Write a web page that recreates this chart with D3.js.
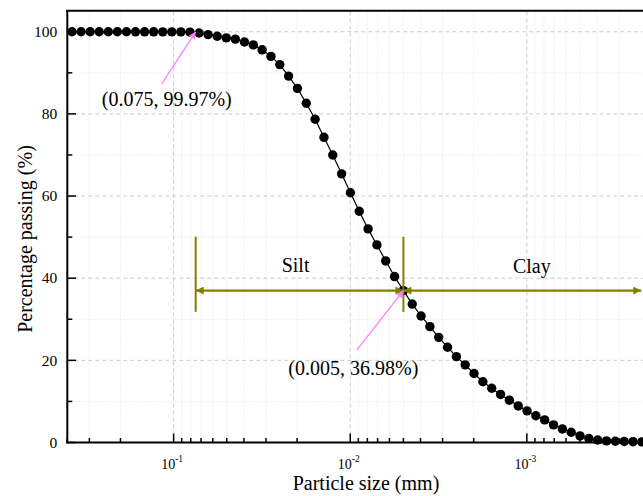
<!DOCTYPE html>
<html>
<head>
<meta charset="utf-8">
<script src="https://cdn.jsdelivr.net/npm/d3@7/dist/d3.min.js"></script>
<style>
  html, body { margin: 0; padding: 0; background: #fff; }
  svg { display: block; }
  text { font-family: "Liberation Serif", "Times New Roman", serif; fill: #000; }
</style>
</head>
<body>
<svg id="chart" width="643" height="496"></svg>
<script>
// ---- data ----
const sizes = [0.3761, 0.3342, 0.2970, 0.2638, 0.2343, 0.2082, 0.1850, 0.1643, 0.1460, 0.1297,
  0.1152, 0.1024, 0.09097, 0.08082, 0.07180, 0.06379, 0.05667, 0.05035, 0.04473,
  0.03972, 0.03540, 0.03155, 0.02812, 0.02506, 0.02234, 0.01991, 0.01774, 0.01581, 0.01409,
  0.01256, 0.01119, 0.009977, 0.008892, 0.007925, 0.007063, 0.006295, 0.005610, 0.005000,
  0.004457, 0.003972, 0.003540, 0.003155, 0.002812, 0.002506, 0.002234, 0.001991, 0.001774,
  0.001581, 0.001409, 0.001256, 0.001119, 0.0009977, 0.0008892, 0.0007925, 0.0007063,
  0.0006295, 0.0005610, 0.0005000, 0.0004457, 0.0003972, 0.0003540, 0.0003155, 0.0002812,
  0.0002506, 0.0002234];
const passing = [100.0, 100.0, 100.0, 100.0, 99.99, 99.99, 99.99, 99.98, 99.98, 99.98,
  99.97, 99.97, 99.96, 99.9, 99.7, 99.3, 98.9, 98.5, 98.2,
  97.5, 96.8, 95.6, 94.0, 92.0, 89.2, 86.2, 82.6, 78.7, 74.3,
  70.0, 65.4, 60.8, 56.3, 52.0, 48.1, 44.2, 40.4, 36.98,
  33.7, 30.8, 28.2, 25.6, 23.2, 20.9, 18.9, 16.8, 14.8,
  13.2, 11.7, 10.3, 8.9, 7.7, 6.5, 5.5, 4.3, 3.3, 2.5, 1.6, 1.0, 0.6, 0.4, 0.3, 0.25, 0.2, 0.15];
const xMajorTicks = [0.1, 0.01, 0.001];
const xTickExponents = ["-1", "-2", "-3"];
const yMajorTicks = [0, 20, 40, 60, 80, 100];
const yMinorTicks = [10, 30, 50, 70, 90];
const xDomain = [0.4, 0.0002];
const yDomain = [0, 105];
// annotation anchors (data space)
const pointLabels = [
  {text: "(0.075, 99.97%)", tip: [0.075, 99.97], tail: [0.1168, 87.3], at: [0.2553, 82.0]},
  {text: "(0.005, 36.98%)", tip: [0.005, 36.98], tail: [0.00919, 22.5], at: [0.02241, 16.4]}
];
const boundaries = [0.075, 0.005, 0.000225];   // silt from 0.075 to 0.005, clay beyond
const boundaryLevel = 36.98;
const boundaryBar = [31.8, 50.1];
const zoneLabels = [{text: "Silt", at: [0.0204, 41.4]}, {text: "Clay", at: [0.000937, 41.3]}];

// ---- chart ----
const svg = d3.select("#chart");
const L = 67.3, R = 650.3, B = 442.5, T = 11.2;
const x = d3.scaleLog().domain(xDomain).range([L, R]);
const y = d3.scaleLinear().domain(yDomain).range([B, T]);

svg.append("rect").attr("width", 643).attr("height", 496).attr("fill", "#fff");

const allXTicks = x.ticks().filter(v => v <= xDomain[0] && v >= xDomain[1]);
const isMajor = v => xMajorTicks.some(m => Math.abs(m - v) / m < 1e-6);
const xMinor = allXTicks.filter(v => !isMajor(v));

// grid
const grid = svg.append("g");
grid.selectAll(".gxm").data(xMinor).join("line")
  .attr("x1", d => x(d)).attr("x2", d => x(d)).attr("y1", B).attr("y2", T)
  .attr("stroke", "#e4e4e4").attr("stroke-width", 1).attr("stroke-dasharray", "1,2");
grid.selectAll(".gym").data(yMinorTicks).join("line")
  .attr("x1", L).attr("x2", R).attr("y1", d => y(d)).attr("y2", d => y(d))
  .attr("stroke", "#e4e4e4").attr("stroke-width", 1).attr("stroke-dasharray", "1,2");
grid.selectAll(".gxM").data(xMajorTicks).join("line")
  .attr("x1", d => x(d)).attr("x2", d => x(d)).attr("y1", B).attr("y2", T)
  .attr("stroke", "#cccccc").attr("stroke-width", 1).attr("stroke-dasharray", "4,3");
grid.selectAll(".gyM").data(yMajorTicks.filter(v => v > 0)).join("line")
  .attr("x1", L).attr("x2", R).attr("y1", d => y(d)).attr("y2", d => y(d))
  .attr("stroke", "#cccccc").attr("stroke-width", 1).attr("stroke-dasharray", "4,3");

// curve
const pts = sizes.map((s, i) => [s, passing[i]]);
svg.append("path").datum(pts)
  .attr("d", d3.line().x(d => x(d[0])).y(d => y(d[1])))
  .attr("fill", "none").attr("stroke", "#000").attr("stroke-width", 1.2);
svg.append("g").selectAll("circle").data(pts).join("circle")
  .attr("cx", d => x(d[0])).attr("cy", d => y(d[1])).attr("r", 4.7).attr("fill", "#000");

// markers
const defs = svg.append("defs");
defs.append("marker").attr("id", "olive").attr("viewBox", "0 0 10 10")
  .attr("refX", 10).attr("refY", 5).attr("markerWidth", 10).attr("markerHeight", 8)
  .attr("markerUnits", "userSpaceOnUse").attr("orient", "auto-start-reverse")
  .append("path").attr("d", "M0,0 L10,5 L0,10 Z").attr("fill", "#808000");
defs.append("marker").attr("id", "pink").attr("viewBox", "0 0 10 10")
  .attr("refX", 10).attr("refY", 5).attr("markerWidth", 9).attr("markerHeight", 7)
  .attr("markerUnits", "userSpaceOnUse").attr("orient", "auto")
  .append("path").attr("d", "M0,0 L10,5 L0,10 Z").attr("fill", "#ff80ff");

// boundary bars and zone arrows
const olive = "#808000";
svg.append("g").selectAll("line").data(boundaries.slice(0, 2)).join("line")
  .attr("x1", d => x(d)).attr("x2", d => x(d))
  .attr("y1", y(boundaryBar[0])).attr("y2", y(boundaryBar[1]))
  .attr("stroke", olive).attr("stroke-width", 2);
[[boundaries[0], boundaries[1]], [boundaries[1], boundaries[2]]].forEach(([a, b]) => {
  svg.append("line")
    .attr("x1", x(a)).attr("x2", x(b)).attr("y1", y(boundaryLevel)).attr("y2", y(boundaryLevel))
    .attr("stroke", olive).attr("stroke-width", 2.2)
    .attr("marker-start", "url(#olive)").attr("marker-end", "url(#olive)");
});
svg.append("g").selectAll("text").data(zoneLabels).join("text")
  .attr("x", d => x(d.at[0])).attr("y", d => y(d.at[1]))
  .attr("text-anchor", "middle").attr("font-size", 20).text(d => d.text);

// point labels
pointLabels.forEach(p => {
  svg.append("line")
    .attr("x1", x(p.tail[0])).attr("y1", y(p.tail[1]))
    .attr("x2", x(p.tip[0])).attr("y2", y(p.tip[1]))
    .attr("stroke", "#ff80ff").attr("stroke-width", 1.3).attr("marker-end", "url(#pink)");
  svg.append("text").attr("x", x(p.at[0])).attr("y", y(p.at[1]))
    .attr("font-size", 20).text(p.text);
});

// axes
const axG = svg.append("g");
axG.append("line").attr("x1", L).attr("x2", L).attr("y1", T - 1).attr("y2", B + 1)
  .attr("stroke", "#000").attr("stroke-width", 2);
axG.append("line").attr("x1", L - 1).attr("x2", R).attr("y1", B).attr("y2", B)
  .attr("stroke", "#000").attr("stroke-width", 2);
axG.append("line").attr("x1", L - 1).attr("x2", R).attr("y1", T - 0.5).attr("y2", T - 0.5)
  .attr("stroke", "#000").attr("stroke-width", 2);

// x ticks (inward)
axG.selectAll(".xtM").data(xMajorTicks).join("line")
  .attr("x1", d => x(d)).attr("x2", d => x(d)).attr("y1", B).attr("y2", B - 9)
  .attr("stroke", "#000").attr("stroke-width", 1.5);
axG.selectAll(".xtm").data(xMinor).join("line")
  .attr("x1", d => x(d)).attr("x2", d => x(d)).attr("y1", B).attr("y2", B - 4.5)
  .attr("stroke", "#000").attr("stroke-width", 1.5);
// y ticks (inward)
axG.selectAll(".ytM").data(yMajorTicks).join("line")
  .attr("x1", L).attr("x2", L + 8.7).attr("y1", d => y(d)).attr("y2", d => y(d))
  .attr("stroke", "#000").attr("stroke-width", 1.5);
axG.selectAll(".ytm").data(yMinorTicks).join("line")
  .attr("x1", L).attr("x2", L + 5).attr("y1", d => y(d)).attr("y2", d => y(d))
  .attr("stroke", "#000").attr("stroke-width", 1.5);

// tick labels
axG.selectAll(".ytl").data(yMajorTicks).join("text")
  .attr("x", L - 10).attr("y", d => y(d) + 5.3)
  .attr("text-anchor", "end").attr("font-size", 15.5).text(d => d);
axG.selectAll(".xtl").data(xMajorTicks).join("text")
  .attr("x", d => x(d) - 1.5).attr("y", 468.5)
  .attr("text-anchor", "middle").attr("font-size", 14)
  .each(function(d, i) {
    const t = d3.select(this);
    t.append("tspan").text("10");
    t.append("tspan").attr("dy", -6.5).attr("font-size", 9.5).text(xTickExponents[i]);
  });

// axis titles
svg.append("text").attr("x", 366).attr("y", 489.5).attr("text-anchor", "middle")
  .attr("font-size", 20).text("Particle size (mm)");
svg.append("text").attr("transform", "translate(32,239) rotate(-90)")
  .attr("text-anchor", "middle").attr("font-size", 20).text("Percentage passing (%)");
</script>
</body>
</html>
